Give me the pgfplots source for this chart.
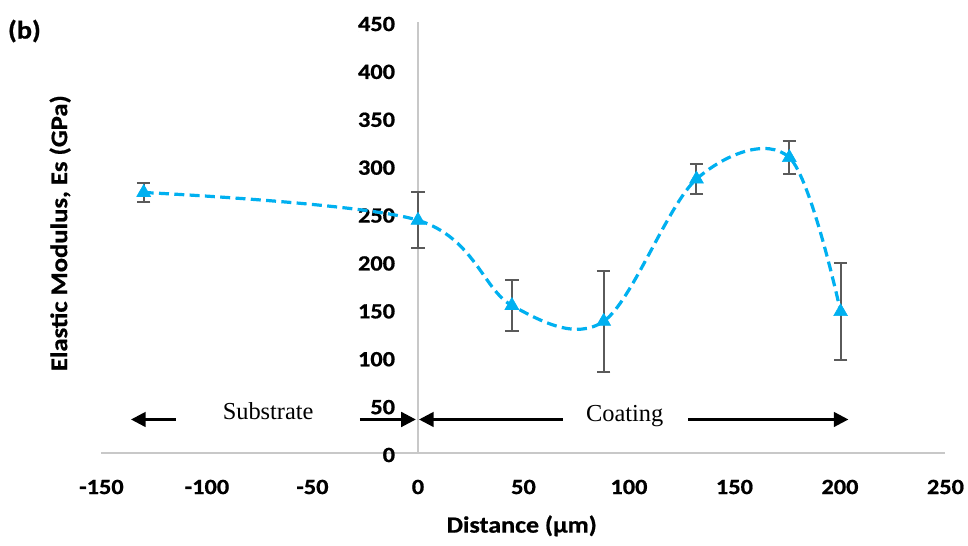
\documentclass[border=0pt]{standalone}
\usepackage{pgfplots}
\pgfplotsset{compat=1.18}
\usepackage{pgfplotstable}
\usepackage{fontspec}
\setmainfont{Carlito}
\newfontfamily\calb{Carlito}[FakeStretch=1.12, BoldFeatures={FakeBold=0.8}]
\newfontfamily\tnr{Liberation Serif}
\usetikzlibrary{arrows.meta}
\definecolor{lblue}{HTML}{00B0F0}
\definecolor{egray}{HTML}{5A5A5A}
\definecolor{agray}{HTML}{C8C8C8}

\pgfplotstableread{
x y e
-130 272 10
0 243 29
44.5 154 27
88 137.5 52.5
132 286 16
176 308.5 17.5
200.3 147.5 50.5
}\datatable

\begin{document}
\begin{tikzpicture}
\begin{axis}[
  name=ax,
  scale only axis,
  width=633pt, height=323.25pt,
  xmin=-150, xmax=250, ymin=0, ymax=450,
  axis x line=bottom, axis y line=middle,
  axis line style={agray, line width=1pt, -},
  every inner x axis line/.append style={-},
  every outer x axis line/.append style={-},
  every inner y axis line/.append style={-},
  every outer y axis line/.append style={-},
  xtick={-150,-100,...,250},
  ytick={0,50,...,450},
  major tick length=0pt,
  hide obscured x ticks=false, hide obscured y ticks=false,
  /pgf/number format/assume math mode=true,
  tick label style={font=\calb\bfseries\fontsize{16.3}{18}\selectfont},
  xticklabel style={anchor=center, yshift=-25.5pt},
  yticklabel style={anchor=east, inner sep=0pt, xshift=-17pt, yshift=-1.5pt},
  clip=false,
  xlabel={Distance (µm)},
  ylabel={Elastic Modulus, Es (GPa)},
  every axis x label/.style={at={(axis description cs:0.498,-0.169)}, anchor=center, font=\calb\bfseries\fontsize{17.4}{20}\selectfont},
  every axis y label/.style={at={(axis description cs:-0.049,0.51)}, anchor=center, rotate=90, font=\calb\bfseries\fontsize{17.8}{20}\selectfont},
]
\addplot[lblue, line width=2.4pt, dash pattern=on 7.5pt off 4pt, smooth, tension=0.55,
  mark=triangle*, mark size=6pt, mark options={solid, fill=lblue, draw=lblue, line width=0.4pt},
  error bars/.cd, y dir=both, y explicit,
  error bar style={egray, solid, line width=1.5pt},
  error mark options={egray, solid, rotate=90, mark size=5pt, line width=1.5pt}]
  table[x=x, y=y, y error=e] \datatable;

\draw[-{Triangle[length=11pt,width=11pt]}, line width=2pt] (axis cs:-114.7,35) -- (axis cs:-136,35);
\draw[-{Triangle[length=11pt,width=11pt]}, line width=2pt] (axis cs:-27.5,35) -- (axis cs:-1,35);
\draw[-{Triangle[length=11pt,width=11pt]}, line width=2pt] (axis cs:68.6,35) -- (axis cs:0.5,35);
\draw[-{Triangle[length=11pt,width=11pt]}, line width=2pt] (axis cs:128,35) -- (axis cs:204,35);
\node[font=\tnr\fontsize{18.3}{20}\selectfont] at (axis cs:-71,44) {Substrate};
\node[font=\tnr\fontsize{18.3}{20}\selectfont] at (axis cs:98,39) {Coating};
\node[font=\calb\bfseries\fontsize{19}{21}\selectfont] at (axis description cs:-0.0913,0.979) {(b)};
\end{axis}
\pgfresetboundingbox
\path[use as bounding box] ([xshift=-76.1pt,yshift=-69pt]ax.south west) rectangle ([xshift=16.9pt,yshift=16.5pt]ax.north east);
\end{tikzpicture}
\end{document}
